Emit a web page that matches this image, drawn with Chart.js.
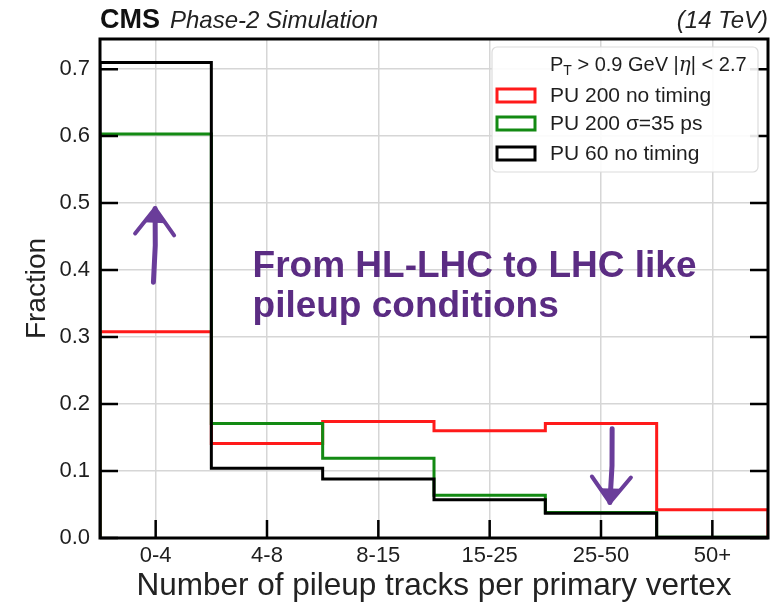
<!DOCTYPE html>
<html>
<head>
<meta charset="utf-8">
<script src="https://cdn.jsdelivr.net/npm/chart.js@4/dist/chart.umd.min.js"></script>
<style>
  html, body { margin: 0; padding: 0; background: #ffffff; }
  canvas { display: block; }
</style>
</head>
<body>
<canvas id="c" width="784" height="605"></canvas>
<script>
// Bins of pileup-track multiplicity per primary vertex
const categories = ['0-4', '4-8', '8-15', '15-25', '25-50', '50+'];

// Fraction of vertices in each bin
const pu200NoTiming   = [0.308, 0.141, 0.174, 0.160, 0.171, 0.042];
const pu200Timing35ps = [0.603, 0.171, 0.119, 0.064, 0.038, 0.001];
const pu60NoTiming    = [0.710, 0.104, 0.088, 0.057, 0.037, 0.001];

const seriesLabels = ['PU 200 no timing', 'PU 200 \u03c3=35 ps', 'PU 60 no timing'];
const seriesColors = ['#ff1a1a', '#138a13', '#000000'];

const yTickValues = [0.0, 0.1, 0.2, 0.3, 0.4, 0.5, 0.6, 0.7];
const yMax = 0.745;

// Step outline of a histogram: up at the first edge, across each bin, down at the last edge
function stepOutline(values) {
  const pts = [{ x: 0, y: 0 }];
  values.forEach((v, i) => {
    pts.push({ x: i, y: v });
    pts.push({ x: i + 1, y: v });
  });
  pts.push({ x: values.length, y: 0 });
  return pts;
}

const FONT = '"Liberation Sans", Arial, Helvetica, sans-serif';
const PURPLE = '#5b2c83';
const TEXT = '#1e1e1e';

// Frame, inward tick marks, legend, header and annotation
const decorations = {
  id: 'decorations',
  afterDatasetsDraw(chart) {
    const { ctx, chartArea: a, scales } = chart;
    const x = scales.x, y = scales.y;
    ctx.save();
    ctx.strokeStyle = '#000';
    ctx.lineWidth = 2.5;
    ctx.beginPath();
    yTickValues.forEach(v => {
      const py = y.getPixelForValue(v);
      ctx.moveTo(a.left, py); ctx.lineTo(a.left + 18, py);
      ctx.moveTo(a.right, py); ctx.lineTo(a.right - 18, py);
    });
    categories.forEach((c, i) => {
      const px = x.getPixelForValue(i + 0.5);
      ctx.moveTo(px, a.bottom); ctx.lineTo(px, a.bottom - 18);
    });
    ctx.stroke();
    ctx.lineWidth = 3;
    ctx.strokeRect(a.left, a.top, a.right - a.left, a.bottom - a.top);
    ctx.restore();
  },
  afterDraw(chart) {
    const { ctx, chartArea: a, scales } = chart;
    const x = scales.x, y = scales.y;
    ctx.save();

    // Experiment header
    ctx.fillStyle = '#111';
    ctx.textBaseline = 'alphabetic';
    ctx.textAlign = 'left';
    ctx.font = 'bold 27px ' + FONT;
    ctx.fillText('CMS', a.left, 28);
    const cmsW = ctx.measureText('CMS').width;
    ctx.font = 'italic 24px ' + FONT;
    ctx.fillStyle = '#222';
    ctx.fillText('Phase-2 Simulation', a.left + cmsW + 10, 28);
    ctx.textAlign = 'right';
    ctx.fillText('(14 TeV)', a.right, 28);

    // Legend
    const lx = 492, ly = 47, lw = 266, lh = 125;
    ctx.beginPath();
    ctx.roundRect(lx, ly, lw, lh, 5);
    ctx.fillStyle = 'rgba(255,255,255,0.9)';
    ctx.fill();
    ctx.strokeStyle = '#dcdcdc';
    ctx.lineWidth = 1.2;
    ctx.stroke();

    ctx.fillStyle = TEXT;
    ctx.textAlign = 'left';
    let tx = 550;
    const hy = 71;
    const piece = (txt, font, dy) => {
      ctx.font = font;
      ctx.fillText(txt, tx, hy + (dy || 0));
      tx += ctx.measureText(txt).width;
    };
    piece('P', '20px ' + FONT);
    piece('T', '14px ' + FONT, 4);
    piece(' > 0.9 GeV |', '20px ' + FONT);
    piece('\u03b7', 'italic 20px "DejaVu Serif", serif');
    piece('| < 2.7', '20px ' + FONT);

    const rows = [95, 123, 153];
    seriesLabels.forEach((lab, i) => {
      ctx.strokeStyle = seriesColors[i];
      ctx.lineWidth = 3;
      ctx.strokeRect(497, rows[i] - 6, 38, 13);
      ctx.fillStyle = TEXT;
      ctx.font = '21px ' + FONT;
      ctx.textBaseline = 'middle';
      ctx.fillText(lab, 550, rows[i] + 1);
    });

    // Annotation text
    ctx.textBaseline = 'alphabetic';
    ctx.fillStyle = PURPLE;
    ctx.font = 'bold 37px ' + FONT;
    const ax = x.getPixelForValue(1.37);
    const ay = y.getPixelForValue(0.39);
    ctx.fillText('From HL-LHC to LHC like', ax, ay);
    ctx.fillText('pileup conditions', ax, ay + 40);

    // Hand-drawn style arrows
    const arrow = (x0, y0, x1, y1, wings) => {
      const p0x = x.getPixelForValue(x0), p0y = y.getPixelForValue(y0);
      const p1x = x.getPixelForValue(x1), p1y = y.getPixelForValue(y1);
      ctx.strokeStyle = '#6a3d9a';
      ctx.fillStyle = '#6a3d9a';
      ctx.lineCap = 'round';
      ctx.lineJoin = 'round';
      ctx.lineWidth = 5;
      ctx.beginPath();
      ctx.moveTo(p0x, p0y);
      ctx.lineTo((p0x + p1x) / 2 + 1, (p0y + p1y) / 2);
      ctx.lineTo(p1x, p1y);
      ctx.stroke();
      ctx.lineWidth = 4;
      ctx.beginPath();
      ctx.moveTo(p1x + wings[0][0], p1y + wings[0][1]);
      ctx.lineTo(p1x, p1y);
      ctx.lineTo(p1x + wings[1][0], p1y + wings[1][1]);
      ctx.stroke();
      ctx.beginPath();
      ctx.moveTo(p1x, p1y);
      ctx.lineTo(p1x + wings[0][0] * 0.55, p1y + wings[0][1] * 0.55);
      ctx.lineTo(p1x + wings[1][0] * 0.55, p1y + wings[1][1] * 0.55);
      ctx.closePath();
      ctx.fill();
    };
    arrow(0.48, 0.382, 0.495, 0.492, [[-20, 25], [19, 27]]);
    arrow(4.6, 0.163, 4.58, 0.053, [[-18, -26], [21, -25]]);

    ctx.restore();
  }
};

const datasets = [
  { label: seriesLabels[2], data: stepOutline(pu60NoTiming),    borderColor: seriesColors[2], order: 1 },
  { label: seriesLabels[1], data: stepOutline(pu200Timing35ps), borderColor: seriesColors[1], order: 2 },
  { label: seriesLabels[0], data: stepOutline(pu200NoTiming),   borderColor: seriesColors[0], order: 3 }
].map(d => Object.assign(d, { borderWidth: 3, pointRadius: 0, tension: 0, fill: false, borderJoinStyle: 'miter' }));

new Chart(document.getElementById('c'), {
  type: 'line',
  data: { datasets },
  options: {
    responsive: false,
    devicePixelRatio: 1,
    animation: false,
    layout: { padding: { top: 39, right: 16, left: 0, bottom: 0 } },
    plugins: { legend: { display: false }, tooltip: { enabled: false } },
    scales: {
      x: {
        type: 'linear',
        min: 0,
        max: categories.length,
        afterBuildTicks: s => { s.ticks = categories.map((c, i) => ({ value: i + 0.5 })); },
        afterFit: s => { s.height = 67; },
        ticks: {
          autoSkip: false,
          maxRotation: 0,
          padding: 5,
          color: TEXT,
          font: { family: FONT, size: 22 },
          callback: (v, i) => categories[i]
        },
        grid: { color: '#d6d6d6', lineWidth: 1.5, drawTicks: false },
        border: { display: false },
        title: {
          display: true,
          text: 'Number of pileup tracks per primary vertex',
          color: '#222',
          font: { family: FONT, size: 31.5 },
          padding: { top: 0, bottom: 0 }
        }
      },
      y: {
        min: 0,
        max: yMax,
        afterBuildTicks: s => { s.ticks = yTickValues.map(v => ({ value: v })); },
        afterFit: s => { s.width = 100; },
        ticks: {
          padding: 10,
          color: TEXT,
          font: { family: FONT, size: 22 },
          callback: v => Number(v).toFixed(1)
        },
        grid: { color: '#d6d6d6', lineWidth: 1.5, drawTicks: false },
        border: { display: false },
        title: {
          display: true,
          text: 'Fraction',
          color: '#222',
          font: { family: FONT, size: 28 },
          padding: { top: 20, bottom: 0 }
        }
      }
    }
  },
  plugins: [decorations]
});
</script>
</body>
</html>
